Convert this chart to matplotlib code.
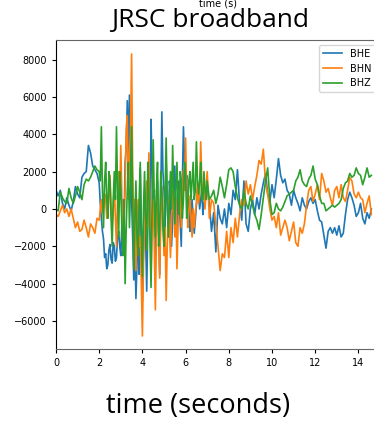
import numpy as np
import matplotlib.pyplot as plt

# ground motion counts in thousands
# quiet onset 0-2 s and coda 7-14.6 s sampled every 0.1 s, the burst 2-7 s every 0.05 s
bhe_early = [1.0, 0.7, 1.0, 0.3, 0.0, 0.6, 0.2, -0.1, 0.4, 1.2, 0.8, 0.6, 1.7, 1.9, 2.0, 3.4, 3.0, 2.3, 2.1, 1.9]
bhe_burst = [1.4, 0.3, -0.5, -1.2, -1.6, -2.6, -2.4, -3.2, -3.0, -2.2, -1.9, -2.7, -2.9, -1.8, -2.0, -2.8, -2.6, -1.5, -1.2, -2.0,
             -2.5, -0.8, 0.5, -1.0, 2.5, 3.3, 5.8, 3.0, 6.1, 2.0, 0.5, -1.5, -3.8, -2.0, -4.8, -3.0, -1.0, -3.5, 2.2, -1.0,
             -4.9, -2.0, 1.0, -1.5, -4.4, -1.0, 1.8, -0.5, 4.8, 2.0, -0.5, 1.0, -2.5, -0.5, 1.5, -1.0, -3.5, 0.5, 5.2, 2.0,
             1.0, -1.0, 2.5, 0.5, -1.5, 1.5, 0.8, -2.0, -0.5, 1.0, 2.3, 0.0, -1.0, 1.5, 0.5, -0.8, -2.0, 1.5, 4.4, 2.5,
             1.0, 1.8, -0.5, 0.5, -1.2, -0.3, 0.5, -0.5, -1.3, -0.6, 0.2, 1.0, 0.8, 0.0, 0.5, 1.0, -0.3, 0.3, 0.6, 1.2]
bhe_late = [1.0, 0.3, -1.2, -0.2, -2.3, 0.2, -0.5, -0.8, 0.0, -1.0,
            0.3, -0.3, 1.0, 0.5, 2.1, 0.3, -0.6, 1.5, -0.8, -1.2,
            0.0, 0.5, -0.3, 0.6, 0.0, 0.8, 1.4, 1.9, 0.8, 0.4,
            1.3, 0.6, 1.6, 2.7, 1.8, 1.4, 1.6, 1.0, 0.8, 0.2,
            1.0, 0.6, 0.3, -0.1, 0.6, 0.2, 0.0, 0.4, 0.6, 0.3,
            0.5, -0.1, -0.6, -0.7, -1.4, -2.1, -1.2, -1.0, -1.3, -1.0,
            -1.4, -0.9, -1.5, -1.3, -0.3, 0.5, 0.9, 0.6, 0.2, -0.4,
            -0.2, 0.3, -0.5, -0.8, -0.2, -0.5, 0.0]

bhn_early = [-0.3, -0.4, -0.1, 0.2, -0.2, 0.0, -0.4, 0.0, -0.5, -1.0, -0.7, -1.2, -1.1, -0.6, -1.0, -1.5, -0.8, -1.0, -1.3, -0.5]
bhn_burst = [-0.6, 0.0, 0.5, -0.2, 0.1, 0.8, 0.5, -0.5, -0.3, 0.5, 1.8, 0.2, -1.0, 0.0, 1.3, -0.5, -2.0, 0.5, 2.0, 0.5,
             3.4, 0.5, -2.2, -0.5, 1.0, 4.2, 5.0, 0.5, 3.0, 4.0, 8.3, 2.0, -1.0, 0.5, -3.3, -1.0, 0.5, -2.0, -1.5, -4.0,
             -6.8, -3.0, -1.0, 0.5, 1.5, -1.0, 3.0, 0.0, -3.8, -1.0, 0.5, -2.0, -5.4, -1.5, 1.0, -1.0, -3.7, -0.5, 1.2, 0.0,
             -2.5, -1.0, -4.9, -2.0, 0.5, -1.0, -2.6, -0.5, 1.0, 0.0, -1.5, 0.5, -3.2, -1.0, 0.5, 1.5, -1.0, 0.5, 2.1, 1.0,
             3.8, 1.0, -1.0, 0.0, 0.7, -0.5, -1.5, 0.0, -1.0, -0.2, 0.3, 1.5, 0.3, 1.0, 3.6, 1.5, 0.5, 1.0, 0.0, 1.2]
bhn_late = [2.0, -0.5, 0.5, 0.3, -0.8, -2.0, -3.3, -2.4, -2.6, -1.2,
            -2.6, -1.0, -1.8, -0.5, -1.5, -0.3, 0.5, 0.2, 1.5, 0.8,
            1.3, 0.5, 1.2, 1.8, 2.6, 2.4, 3.2, 1.4, 0.8, 0.0,
            -0.6, -0.4, -1.0, -0.2, -1.4, -1.0, -0.6, -1.0, -1.7, -1.2,
            -0.7, -1.8, -2.0, -1.0, -1.3, -0.8, 0.2, 1.0, 1.2, 0.4,
            0.8, 1.3, 0.5, 1.9, 1.5, 0.9, 1.1, 0.6, 0.2, 1.0,
            1.2, 0.6, 1.3, 0.6, 0.4, 1.0, 1.7, 1.5, 0.8, 0.6,
            0.9, 0.6, 0.5, -0.2, 0.3, 0.7, -0.3]

bhz_early = [0.0, -0.1, 0.9, 0.6, 0.4, 0.3, 1.1, 0.6, 0.3, 0.7, 1.2, 0.9, 0.5, 1.3, 1.6, 1.5, 1.7, 2.0, 2.3, 2.1]
bhz_burst = [2.0, 1.5, 4.4, 1.0, -1.0, 1.5, 2.5, 0.5, -0.5, 2.0, 1.5, -0.5, -2.0, 0.5, 2.0, 0.5, 4.4, 1.0, -1.5, 2.0,
             1.0, -1.0, -2.5, 0.5, -4.0, -1.0, 1.0, 2.5, -1.0, 1.0, 4.4, 0.5, -3.2, -0.5, 1.5, -1.5, -2.5, 0.5, 2.5, -1.0,
             -3.6, 0.0, 2.0, -0.5, -2.2, 2.5, 1.0, -1.5, -4.2, 0.5, 3.7, 0.5, -1.5, 1.0, 2.5, -2.0, -1.0, 2.0, 1.0, -1.0,
             -2.0, 1.0, 3.8, 0.5, -1.5, 0.5, 2.0, 0.0, 3.4, 1.0, -0.8, 1.0, 2.5, 0.5, -0.3, 2.0, 1.5, -0.5, 0.5, 2.5,
             1.8, -0.5, 0.3, 1.5, 2.0, 0.5, 1.5, 2.5, 0.5, 1.0, 3.6, 1.5, 0.8, 1.5, 2.5, 0.5, 0.5, 2.0, 1.0, 0.5]
bhz_late = [1.5, 0.5, 0.7, 1.0, 0.3, 0.8, 1.7, 1.2, 0.6, 1.3,
            2.1, 2.2, 2.0, 1.2, 0.6, 0.2, 0.0, 1.0, 0.3, 0.0,
            0.7, 0.2, -0.3, -0.6, -1.1, -0.3, 0.6, 1.5, 2.2, 0.5,
            -0.3, -0.2, 0.3, 0.0, -0.1, 0.1, 0.4, 0.7, 0.8, 0.9,
            1.0, 1.5, 1.7, 2.1, 1.5, 1.3, 1.2, 1.6, 1.8, 2.3,
            1.6, 1.3, 0.7, 0.3, 0.3, -0.1, 0.0, 0.1, 0.2, 0.1,
            0.2, 0.3, 0.5, 1.1, 1.4, 1.5, 1.9, 1.7, 1.8, 2.2,
            1.9, 1.8, 1.3, 1.7, 2.2, 1.7, 1.8]

channels = ['BHE', 'BHN', 'BHZ']

t = np.concatenate([np.arange(20) * 0.1, 2 + np.arange(100) * 0.05, 7 + np.arange(77) * 0.1])
traces = [bhe_early + bhe_burst + bhe_late,
          bhn_early + bhn_burst + bhn_late,
          bhz_early + bhz_burst + bhz_late]

fig = plt.figure(figsize=(3.74, 4.21), dpi=100)
ax = fig.add_axes([56/374, 1 - 349/421, (380 - 56)/374, (349 - 40)/421])

for name, trace in zip(channels, traces):
    ax.plot(t, np.array(trace) * 1000, label=name, lw=1.2)

ax.set_xlim(0, 15)
ax.set_ylim(-7500, 9050)
ax.set_xticks(range(0, 15, 2))
ax.tick_params(labelsize=7, length=3)
for side in ['top', 'bottom']:
    ax.spines[side].set_color('0.4')
ax.legend(loc='upper right', fontsize=7)

# titles pasted over the figure
fig.text(218/374, 1 - 4/421, 'time (s)', ha='center', va='center', fontsize=7)
fig.text(210/374, 1 - 21/421, 'JRSC broadband', ha='center', va='center',
         fontsize=19, family='Open Sans')
fig.text(198/374, 1 - 406/421, 'time (seconds)', ha='center', va='center',
         fontsize=19.5, family='Open Sans')

fig.savefig('out.png', dpi=100)
